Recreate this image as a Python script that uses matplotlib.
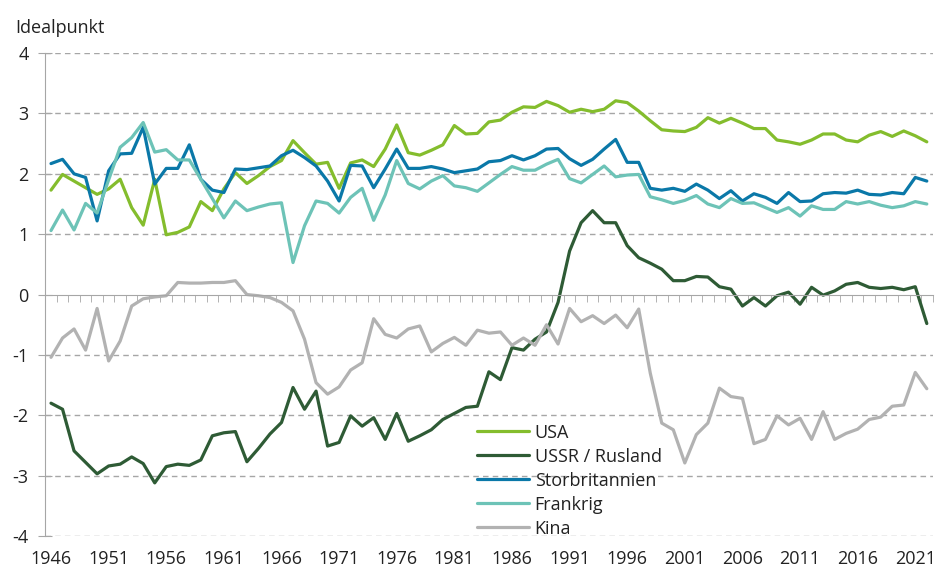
import matplotlib
matplotlib.use("Agg")
from matplotlib import pyplot as plt
import numpy as np

plt.rcParams['font.family'] = ['Open Sans', 'DejaVu Sans']
plt.rcParams['axes.unicode_minus'] = False

years = list(range(1946, 2023))

usa = [1.73, 1.99, 1.88, 1.77, 1.66, 1.75, 1.91, 1.44, 1.15, 1.91,
       0.99, 1.03, 1.12, 1.54, 1.39, 1.75, 2.02, 1.84, 1.97, 2.12,
       2.22, 2.55, 2.35, 2.16, 2.19, 1.76, 2.18, 2.23, 2.12, 2.41,
       2.81, 2.35, 2.31, 2.39, 2.48, 2.80, 2.66, 2.67, 2.86, 2.89,
       3.02, 3.11, 3.10, 3.20, 3.13, 3.02, 3.07, 3.03, 3.07, 3.21,
       3.18, 3.04, 2.88, 2.73, 2.71, 2.70, 2.77, 2.93, 2.84, 2.92,
       2.84, 2.75, 2.75, 2.56, 2.53, 2.49, 2.56, 2.66, 2.66, 2.56,
       2.53, 2.64, 2.70, 2.62, 2.71, 2.63, 2.53]

ussr = [-1.80, -1.90, -2.59, -2.78, -2.97, -2.84, -2.81, -2.69, -2.80, -3.12,
        -2.85, -2.81, -2.83, -2.74, -2.34, -2.29, -2.27, -2.77, -2.55, -2.31,
        -2.12, -1.54, -1.90, -1.60, -2.51, -2.45, -2.01, -2.18, -2.04, -2.40,
        -1.97, -2.43, -2.34, -2.24, -2.07, -1.97, -1.87, -1.85, -1.28, -1.41,
        -0.88, -0.92, -0.74, -0.62, -0.13, 0.72, 1.19, 1.39, 1.19, 1.19,
        0.81, 0.61, 0.52, 0.42, 0.23, 0.23, 0.30, 0.29, 0.13, 0.09,
        -0.19, -0.05, -0.19, -0.02, 0.04, -0.16, 0.12, -0.01, 0.06, 0.17,
        0.20, 0.12, 0.10, 0.12, 0.08, 0.13, -0.48]

uk = [2.17, 2.24, 2.00, 1.94, 1.22, 2.05, 2.33, 2.34, 2.77, 1.83,
      2.09, 2.09, 2.48, 1.91, 1.73, 1.69, 2.08, 2.07, 2.10, 2.13,
      2.30, 2.39, 2.27, 2.13, 1.88, 1.55, 2.14, 2.13, 1.77, 2.08,
      2.41, 2.09, 2.09, 2.12, 2.08, 2.02, 2.05, 2.08, 2.20, 2.22,
      2.30, 2.23, 2.30, 2.41, 2.42, 2.25, 2.14, 2.24, 2.41, 2.57,
      2.19, 2.19, 1.76, 1.73, 1.76, 1.71, 1.83, 1.73, 1.59, 1.72,
      1.55, 1.67, 1.61, 1.51, 1.69, 1.54, 1.55, 1.67, 1.69, 1.68,
      1.73, 1.66, 1.65, 1.69, 1.67, 1.94, 1.88]

france = [1.06, 1.40, 1.07, 1.51, 1.35, 1.90, 2.44, 2.60, 2.85, 2.36,
          2.40, 2.23, 2.23, 1.91, 1.59, 1.27, 1.55, 1.39, 1.45, 1.50,
          1.52, 0.53, 1.14, 1.55, 1.51, 1.35, 1.61, 1.76, 1.23, 1.65,
          2.22, 1.84, 1.75, 1.88, 1.97, 1.80, 1.77, 1.71, 1.85, 1.99,
          2.12, 2.06, 2.06, 2.16, 2.24, 1.92, 1.85, 1.99, 2.13, 1.95,
          1.98, 1.99, 1.62, 1.57, 1.51, 1.56, 1.64, 1.50, 1.44, 1.59,
          1.51, 1.52, 1.44, 1.36, 1.44, 1.30, 1.47, 1.41, 1.41, 1.54,
          1.50, 1.54, 1.48, 1.44, 1.47, 1.54, 1.50]

china = [-1.04, -0.72, -0.57, -0.92, -0.23, -1.10, -0.77, -0.19, -0.07, -0.04,
         -0.02, 0.20, 0.19, 0.19, 0.20, 0.20, 0.23, 0.00, -0.02, -0.05,
         -0.13, -0.27, -0.74, -1.46, -1.65, -1.53, -1.25, -1.13, -0.40, -0.66,
         -0.72, -0.57, -0.52, -0.95, -0.81, -0.71, -0.84, -0.59, -0.64, -0.62,
         -0.84, -0.72, -0.84, -0.50, -0.82, -0.23, -0.45, -0.35, -0.48, -0.34,
         -0.55, -0.24, -1.30, -2.13, -2.24, -2.79, -2.32, -2.13, -1.55, -1.69,
         -1.72, -2.47, -2.40, -2.01, -2.16, -2.05, -2.40, -1.94, -2.40, -2.30,
         -2.23, -2.07, -2.03, -1.85, -1.83, -1.29, -1.56]

series = [
    ("USA", usa, '#84bd2d'),
    ("USSR / Rusland", ussr, '#2e5b35'),
    ("Storbritannien", uk, '#0a78a8'),
    ("Frankrig", france, '#6dc3b7'),
    ("Kina", china, '#b2b2b2'),
]

label_years = years[::5]
grey = '#a6a6a6'

fig = plt.figure(figsize=(9.35, 5.71), dpi=100)
ax = fig.add_axes([0.0484, 0.0613, 0.949, 0.8457])

x = np.arange(len(years))
for name, vals, col in series:
    ax.plot(x, vals, color=col, lw=2.3, label=name, solid_joinstyle='round',
            solid_capstyle='round')

ax.set_xlim(-0.5, len(years) - 0.5)
ax.set_ylim(-4, 4)
ax.set_yticks(range(-4, 5))

# dashed grid, no grid at 0 (that is the axis line)
for v in range(-4, 5):
    if v != 0:
        ax.axhline(v, color=grey, lw=1, ls=(0, (4, 3)), zorder=0)

for s in ['top', 'right']:
    ax.spines[s].set_visible(False)
ax.spines['left'].set_color(grey)
ax.spines['bottom'].set_color(grey)
ax.spines['bottom'].set_position(('data', 0))
ax.spines['left'].set_zorder(0.5)

ax.set_xticks([])
ax.set_xticks(np.arange(-0.5, len(years), 1), minor=True)
ax.tick_params(axis='x', which='minor', direction='out', length=5, color=grey,
               labelbottom=False)
ax.tick_params(axis='y', direction='inout', length=10, color=grey, pad=7,
               labelsize=13, labelcolor='#222222')

sec = ax.secondary_xaxis('bottom')
sec.set_xticks([years.index(y) for y in label_years], [str(y) for y in label_years])
sec.spines['bottom'].set_visible(False)
sec.tick_params(length=0, pad=10, labelsize=13, labelcolor='#222222')

fig.text(0.016, 0.943, "Idealpunkt", fontsize=13, color='#222222', va='baseline')

leg = ax.legend(loc='upper left', bbox_to_anchor=(0.510, 0.258),
                bbox_transform=fig.transFigure, frameon=False, fontsize=13,
                handlelength=2.9, handletextpad=0.3, labelspacing=0.33,
                borderpad=0, borderaxespad=0)
for t in leg.get_texts():
    t.set_color('#222222')

fig.savefig("out.png", dpi=100)
